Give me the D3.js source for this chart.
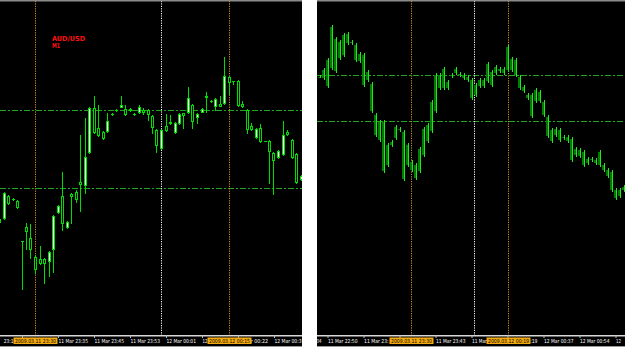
<!DOCTYPE html>
<html><head><meta charset="utf-8">
<script src="https://cdn.jsdelivr.net/npm/d3@7/dist/d3.min.js"></script>
<style>html,body{margin:0;padding:0;background:#fff;overflow:hidden}</style>
</head><body><svg id="c" width="625" height="349"></svg>
<script>
// ---------- data ----------
const symbolText = ["AUD/USD", "M1"];
const levels = [0.64800, 0.64722];

// left chart: M1 candles
const leftOpen  = [0.64688,0.64717,0.64707,0.64711,0.64703,0.64669,0.64679,0.64661,0.64641,0.64647,0.64647,0.64658,0.64694,0.64704,0.64687,0.64688,0.64714,0.64711,0.64726,0.64753,0.64802,0.64778,0.64775,0.64772,0.64789,0.64796,0.64800,0.64805,0.64796,0.64801,0.64796,0.64803,0.64798,0.64796,0.64783,0.64765,0.64780,0.64780,0.64787,0.64787,0.64796,0.64795,0.64812,0.64789,0.64796,0.64801,0.64813,0.64809,0.64811,0.64804,0.64834,0.64828,0.64829,0.64805,0.64804,0.64781,0.64781,0.64781,0.64769,0.64769,0.64759,0.64750,0.64759,0.64775,0.64776,0.64753,0.64728,0.64734];
const leftHigh  = [0.64693,0.64718,0.64715,0.64712,0.64710,0.64669,0.64687,0.64686,0.64655,0.64664,0.64652,0.64659,0.64695,0.64705,0.64738,0.64689,0.64717,0.64720,0.64775,0.64792,0.64803,0.64814,0.64805,0.64779,0.64797,0.64797,0.64801,0.64814,0.64805,0.64802,0.64797,0.64805,0.64802,0.64801,0.64795,0.64781,0.64781,0.64796,0.64795,0.64788,0.64797,0.64797,0.64823,0.64806,0.64797,0.64802,0.64818,0.64810,0.64812,0.64814,0.64853,0.64834,0.64829,0.64830,0.64809,0.64801,0.64787,0.64782,0.64786,0.64769,0.64770,0.64758,0.64760,0.64789,0.64780,0.64771,0.64757,0.64735];
const leftLow   = [0.64686,0.64691,0.64706,0.64710,0.64702,0.64621,0.64661,0.64652,0.64637,0.64646,0.64627,0.64634,0.64638,0.64697,0.64680,0.64682,0.64687,0.64708,0.64699,0.64717,0.64757,0.64777,0.64774,0.64771,0.64778,0.64795,0.64799,0.64803,0.64795,0.64799,0.64795,0.64797,0.64796,0.64790,0.64777,0.64758,0.64761,0.64779,0.64786,0.64777,0.64786,0.64782,0.64797,0.64782,0.64787,0.64798,0.64798,0.64808,0.64800,0.64804,0.64806,0.64816,0.64826,0.64804,0.64803,0.64777,0.64780,0.64772,0.64768,0.64769,0.64727,0.64716,0.64752,0.64755,0.64775,0.64752,0.64727,0.64730];
const leftClose = [0.64691,0.64692,0.64714,0.64711,0.64709,0.64669,0.64683,0.64672,0.64653,0.64651,0.64651,0.64649,0.64661,0.64698,0.64714,0.64683,0.64716,0.64718,0.64728,0.64725,0.64758,0.64802,0.64782,0.64778,0.64779,0.64796,0.64800,0.64803,0.64801,0.64800,0.64796,0.64798,0.64800,0.64800,0.64794,0.64780,0.64762,0.64784,0.64788,0.64778,0.64787,0.64797,0.64798,0.64805,0.64793,0.64798,0.64814,0.64809,0.64804,0.64806,0.64807,0.64833,0.64829,0.64829,0.64806,0.64800,0.64784,0.64773,0.64782,0.64769,0.64769,0.64757,0.64753,0.64756,0.64778,0.64770,0.64756,0.64731];
const leftTickIdx    = [-3, 5, 13, 21, 29, 37, 45, 53, 61];
const leftTickLabels = ["11 Mar 23:18","11 Mar 23:27","11 Mar 23:35","11 Mar 23:45","11 Mar 23:53","12 Mar 00:01","12 Mar 00:08","12 Mar 00:22","12 Mar 00:30"];
const leftMarkIdx    = [8, 36, 51];
const leftMarkColor  = ["#d8901c", "#ffffff", "#d8901c"];
const leftMarkLabel  = ["2009.03.11 23:30", null, "2009.03.12 00:15"];

// right chart: compressed view, high/low per column
const rightHigh = [0.64800,0.64812,0.64829,0.64885,0.64864,0.64859,0.64871,0.64873,0.64859,0.64854,0.64839,0.64837,0.64808,0.64788,0.64736,0.64724,0.64724,0.64685,0.64690,0.64715,0.64712,0.64707,0.64685,0.64656,0.64651,0.64678,0.64712,0.64719,0.64758,0.64803,0.64803,0.64814,0.64792,0.64803,0.64814,0.64805,0.64803,0.64800,0.64795,0.64786,0.64795,0.64795,0.64822,0.64808,0.64817,0.64814,0.64814,0.64851,0.64831,0.64829,0.64800,0.64783,0.64769,0.64769,0.64778,0.64775,0.64758,0.64732,0.64710,0.64712,0.64710,0.64698,0.64698,0.64695,0.64678,0.64676,0.64673,0.64661,0.64661,0.64659,0.64673,0.64651,0.64642,0.64639,0.64608,0.64608,0.64614];
const rightLow  = [0.64795,0.64792,0.64778,0.64808,0.64803,0.64825,0.64831,0.64851,0.64851,0.64822,0.64820,0.64780,0.64788,0.64736,0.64695,0.64686,0.64634,0.64644,0.64678,0.64690,0.64703,0.64620,0.64644,0.64636,0.64622,0.64634,0.64661,0.64685,0.64702,0.64736,0.64775,0.64775,0.64775,0.64795,0.64800,0.64797,0.64792,0.64788,0.64758,0.64763,0.64778,0.64778,0.64786,0.64780,0.64800,0.64803,0.64800,0.64805,0.64805,0.64797,0.64775,0.64769,0.64758,0.64727,0.64753,0.64753,0.64729,0.64693,0.64685,0.64695,0.64686,0.64690,0.64685,0.64652,0.64661,0.64659,0.64644,0.64647,0.64653,0.64647,0.64644,0.64636,0.64625,0.64602,0.64588,0.64592,0.64602];
const rightTickIdx    = [-7, 2, 11, 20, 29, 38, 47, 56, 65, 74];
const rightTickLabels = ["11 Mar 22:34","11 Mar 22:50","11 Mar 23:06","11 Mar 23:22","11 Mar 23:43","11 Mar 23:59","12 Mar 00:19","12 Mar 00:37","12 Mar 00:54","12 Mar 01:11"];
const rightMarkIdx    = [23, 38.75, 47.25];
const rightMarkColor  = ["#d8901c", "#ffffff", "#d8901c"];
const rightMarkLabel  = ["2009.03.11 23:30", null, "2009.03.12 00:19"];

// ---------- drawing ----------
const svg = d3.select("#c");
const AXIS_Y = 335, BOTTOM = 346;
const UP = "#00dd00";
const LABEL_W = 29.5, BOX_HALF = 22;

function panel(id, x0, x1) {
  svg.append("rect").attr("x", x0).attr("y", 0).attr("width", x1 - x0).attr("height", BOTTOM).attr("fill", "#000");
  svg.append("clipPath").attr("id", id).append("rect").attr("x", x0).attr("y", 1).attr("width", x1 - x0).attr("height", BOTTOM - 1);
  const g = svg.append("g").attr("clip-path", `url(#${id})`);
  svg.append("rect").attr("x", x0).attr("y", 0).attr("width", x1 - x0).attr("height", 1.5).attr("fill", "#8a8a8a");
  svg.append("rect").attr("x", x0).attr("y", BOTTOM).attr("width", x1 - x0).attr("height", 1).attr("fill", "#9a9a9a");
  return g;
}

function levelsAndMarks(g, x, y, x0, x1, markIdx, markColor) {
  g.selectAll(".lvl").data(levels).join("line")
    .attr("x1", x0).attr("x2", x1)
    .attr("y1", d => Math.round(y(d)) + 0.5).attr("y2", d => Math.round(y(d)) + 0.5)
    .attr("stroke", "#1fa81f").attr("stroke-width", 1.2).attr("stroke-dasharray", "6,2,2,2");
  g.selectAll(".vm").data(markIdx).join("line")
    .attr("x1", d => Math.round(x(d)) + 0.5).attr("x2", d => Math.round(x(d)) + 0.5)
    .attr("y1", 1).attr("y2", AXIS_Y)
    .attr("stroke", (d, i) => markColor[i]).attr("stroke-width", 1).attr("stroke-dasharray", "1.2,1.2");
}

// visible pieces of a label (parts hidden by the highlighted boxes or the panel edges are dropped)
function visibleRuns(label, tx, hide) {
  const cw = LABEL_W / label.length;
  const out = []; let cur = null;
  for (let k = 0; k < label.length; k++) {
    const a = tx + k * cw, mid = a + cw / 2;
    const vis = !hide.some(([h0, h1]) => mid > h0 && mid < h1);
    if (vis) { if (!cur) { cur = { x: a, s: "" }; out.push(cur); } cur.s += label[k]; }
    else cur = null;
  }
  return out.map(r => {
    let s = r.s, xx = r.x;
    while (s.startsWith(" ")) { s = s.slice(1); xx += cw; }
    s = s.replace(/\s+$/, "");
    return { x: xx, s, w: s.length * cw };
  }).filter(r => r.s.length > 0);
}

function timeAxis(g, x, x0, x1, tickIdx, tickLabels, markIdx, markLabel) {
  g.append("rect").attr("x", x0).attr("y", AXIS_Y).attr("width", x1 - x0).attr("height", 1.5).attr("fill", "#d8d8d8");
  const ax = d3.axisBottom(x).tickValues(tickIdx).tickSize(3).tickFormat("");
  const ag = g.append("g").attr("transform", `translate(0,${AXIS_Y})`).call(ax);
  ag.select(".domain").remove();
  ag.selectAll(".tick line").attr("stroke", "#bbb").attr("transform", "translate(0.5,0)");
  const boxes = markIdx.map((m, i) => markLabel[i] ? Math.round(x(m)) + 0.5 : null).filter(v => v !== null);
  const hide = [[-1e9, x0 + 0.5], [x1 - 0.5, 1e9]].concat(boxes.map(c => [c - BOX_HALF, c + BOX_HALF]));
  const runs = [];
  tickIdx.forEach((t, i) => visibleRuns(tickLabels[i], x(t) + 1, hide).forEach(r => runs.push(r)));
  g.selectAll(".tl").data(runs).join("text")
    .attr("x", d => d.x).attr("y", AXIS_Y + 8.3)
    .attr("fill", "#fff").attr("font-family", "DejaVu Sans").attr("font-size", 5.4)
    .attr("textLength", d => d.w).attr("lengthAdjust", "spacingAndGlyphs").text(d => d.s);
  markIdx.forEach((m, i) => {
    if (!markLabel[i]) return;
    const cx = Math.round(x(m)) + 0.5;
    g.append("rect").attr("x", cx - BOX_HALF).attr("y", 337.5).attr("width", 2 * BOX_HALF).attr("height", 6.5).attr("fill", "#f4a90c");
    g.append("text").attr("x", cx - BOX_HALF + 1.5).attr("y", 343.2).attr("fill", "#000").attr("font-family", "DejaVu Sans")
      .attr("font-size", 5.4).attr("textLength", 41).attr("lengthAdjust", "spacingAndGlyphs").text(markLabel[i]);
  });
}

// ---- left panel ----
const L0 = 0, L1 = 302;
const gL = panel("clipL", L0, L1);
const xL = d3.scaleLinear().domain([0, leftOpen.length - 1]).range([-1, 300.5]);
const yL = d3.scaleLinear().domain(levels).range([110, 188]);
levelsAndMarks(gL, xL, yL, L0, L1, leftMarkIdx, leftMarkColor);

const candles = leftOpen.map((o, i) => ({ i, o, h: leftHigh[i], l: leftLow[i], c: leftClose[i] }));
const cg = gL.append("g");
cg.selectAll(".wick").data(candles).join("line")
  .attr("x1", d => Math.round(xL(d.i)) + 0.5).attr("x2", d => Math.round(xL(d.i)) + 0.5)
  .attr("y1", d => Math.round(yL(d.h))).attr("y2", d => Math.round(yL(d.l)) + 1)
  .attr("stroke", UP).attr("stroke-width", 1);
cg.selectAll(".body").data(candles).join("rect")
  .attr("x", d => Math.round(xL(d.i)) - 0.5)
  .attr("y", d => Math.round(yL(Math.max(d.o, d.c))) + 0.5)
  .attr("width", 2)
  .attr("height", d => Math.max(0.01, Math.round(yL(Math.min(d.o, d.c))) - Math.round(yL(Math.max(d.o, d.c)))))
  .attr("fill", d => d.c < d.o ? "#ffffff" : "#000")
  .attr("stroke", UP).attr("stroke-width", 1);

svg.append("text").attr("x", 52).attr("y", 40.5).attr("fill", "#ff1010").attr("font-family", "DejaVu Sans")
  .attr("font-weight", "bold").attr("font-size", 6.8).attr("textLength", 33).attr("lengthAdjust", "spacingAndGlyphs").text(symbolText[0]);
svg.append("text").attr("x", 52).attr("y", 47.5).attr("fill", "#ff1010").attr("font-family", "DejaVu Sans")
  .attr("font-weight", "bold").attr("font-size", 6.8).attr("textLength", 8).attr("lengthAdjust", "spacingAndGlyphs").text(symbolText[1]);

timeAxis(gL, xL, L0, L1, leftTickIdx, leftTickLabels, leftMarkIdx, leftMarkLabel);

// ---- right panel ----
const R0 = 317, R1 = 625;
const gR = panel("clipR", R0, R1);
const xR = d3.scaleLinear().domain([0, rightHigh.length - 1]).range([319, 623]);
const yR = d3.scaleLinear().domain(levels).range([75, 121]);
levelsAndMarks(gR, xR, yR, R0, R1, rightMarkIdx, rightMarkColor);
const bars = rightHigh.map((h, i) => ({ i, h, l: rightLow[i] }));
gR.selectAll(".rb").data(bars).join("rect")
  .attr("x", d => Math.round(xR(d.i)) - 1).attr("y", d => Math.round(yR(d.h)) + 2)
  .attr("width", 2).attr("height", d => Math.max(1, Math.round(yR(d.l)) - Math.round(yR(d.h)) - 4))
  .attr("fill", "#007c00");
gR.selectAll(".rw").data(bars).join("line")
  .attr("x1", d => Math.round(xR(d.i)) + 1.5).attr("x2", d => Math.round(xR(d.i)) + 1.5)
  .attr("y1", d => Math.round(yR(d.h))).attr("y2", d => Math.round(yR(d.l)))
  .attr("stroke", "#22e822").attr("stroke-width", 1);
timeAxis(gR, xR, R0, R1, rightTickIdx, rightTickLabels, rightMarkIdx, rightMarkLabel);
</script></body></html>
